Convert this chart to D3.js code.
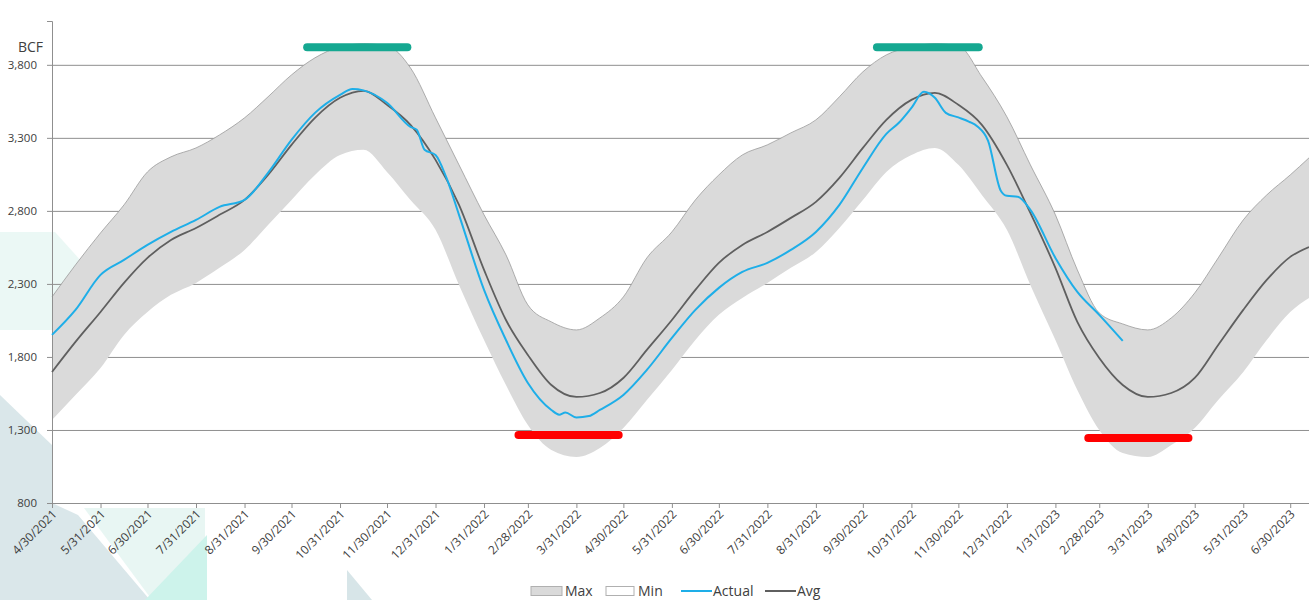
<!DOCTYPE html>
<html>
<head>
<meta charset="utf-8">
<script src="https://cdn.jsdelivr.net/npm/d3@7"></script>
<style>
  html, body { margin: 0; padding: 0; background: #ffffff; }
  svg { display: block; }
  text { font-family: "Open Sans", "Liberation Sans", sans-serif; fill: #404040; }
</style>
</head>
<body>
<svg id="chart" width="1309" height="600"></svg>
<script>
// ---------- DATA ----------
const bandDates = ["2021-04-30","2021-05-15","2021-05-31","2021-06-15","2021-06-30","2021-07-15","2021-07-31","2021-08-15","2021-08-31","2021-09-15","2021-09-30","2021-10-15","2021-10-31","2021-11-15","2021-11-30","2021-12-15","2021-12-31",
"2022-01-15","2022-01-31","2022-02-14","2022-02-28","2022-03-15","2022-03-31","2022-04-15","2022-04-30","2022-05-15","2022-05-31","2022-06-15","2022-06-30","2022-07-15","2022-07-31","2022-08-15","2022-08-31","2022-09-15","2022-09-30","2022-10-15","2022-10-31","2022-11-15","2022-11-30","2022-12-15","2022-12-31",
"2023-01-15","2023-01-31","2023-02-14","2023-02-28","2023-03-15","2023-03-31","2023-04-15","2023-04-30","2023-05-15","2023-05-31","2023-06-15","2023-06-30","2023-07-12"];

const maxVals = [2211,2430,2649,2841,3067,3170,3231,3320,3437,3581,3731,3848,3923,3944,3930,3779,3437,
3115,2773,2499,2156,2040,1985,2067,2211,2478,2656,2875,3046,3183,3252,3334,3423,3581,3752,3868,3923,3944,3930,3718,3444,
3115,2773,2396,2101,2026,1985,2067,2238,2478,2738,2909,3046,3163];

const minVals = [1368,1540,1725,1951,2108,2225,2307,2410,2533,2704,2875,3046,3183,3218,3067,2875,2670,
2293,1916,1608,1334,1163,1115,1177,1314,1505,1711,1916,2088,2204,2307,2410,2519,2683,2875,3067,3183,3231,3115,2909,2670,
2293,1916,1574,1300,1142,1115,1197,1314,1505,1697,1916,2108,2204];

const avgVals = [1697,1903,2108,2307,2478,2601,2683,2773,2875,3046,3252,3437,3574,3622,3526,3389,3149,
2841,2396,2053,1814,1608,1526,1553,1656,1848,2053,2259,2444,2567,2656,2752,2862,3026,3231,3423,3560,3608,3526,3389,3115,
2786,2410,2040,1793,1608,1526,1553,1656,1882,2122,2327,2485,2553];

const actualDates = ["2021-04-30","2021-05-15","2021-05-31","2021-06-15","2021-06-30","2021-07-15","2021-07-31","2021-08-15","2021-08-31","2021-09-15","2021-09-30","2021-10-15","2021-10-31","2021-11-08","2021-11-15","2021-11-30","2021-12-15","2021-12-19","2021-12-24","2021-12-31",
"2022-01-07","2022-01-15","2022-01-31","2022-02-14","2022-02-28","2022-03-15","2022-03-20","2022-03-24","2022-03-31","2022-04-08","2022-04-15","2022-04-30","2022-05-15","2022-05-31","2022-06-15","2022-06-30","2022-07-15","2022-07-31","2022-08-15","2022-08-31","2022-09-15","2022-09-30","2022-10-15","2022-10-23","2022-10-31","2022-11-08","2022-11-15","2022-11-22","2022-11-30","2022-12-07","2022-12-12","2022-12-19","2022-12-27","2022-12-31",
"2023-01-07","2023-01-15","2023-01-31","2023-02-14","2023-02-28","2023-03-15"];

const actualVals = [1951,2122,2362,2464,2567,2656,2738,2827,2875,3060,3286,3471,3594,3635,3625,3540,3375,3355,3218,3183,
3026,2773,2259,1916,1622,1437,1405,1420,1385,1395,1437,1540,1711,1930,2122,2273,2382,2444,2533,2656,2841,3094,3327,3403,3505,3615,3574,3471,3440,3410,3380,3280,2940,2903,
2896,2807,2478,2245,2088,1910];

const yTicks = [800,1300,1800,2300,2800,3300,3800];
const xTickLabels = ["4/30/2021","5/31/2021","6/30/2021","7/31/2021","8/31/2021","9/30/2021","10/31/2021","11/30/2021","12/31/2021",
"1/31/2022","2/28/2022","3/31/2022","4/30/2022","5/31/2022","6/30/2022","7/31/2022","8/31/2022","9/30/2022","10/31/2022","11/30/2022","12/31/2022",
"1/31/2023","2/28/2023","3/31/2023","4/30/2023","5/31/2023","6/30/2023"];

// annotation bars (target windows): start date, end date, level (BCF)
const peakBars = [["2021-10-10","2021-12-13",3920],["2022-10-09","2022-12-13",3920]];
const troughBars = [["2022-02-22","2022-04-27",1266],["2023-02-21","2023-04-26",1245]];

const legendItems = ["Max","Min","Actual","Avg"];

// ---------- SCALES ----------
const parse = d3.timeParse("%Y-%m-%d");
const parseMDY = d3.timeParse("%m/%d/%Y");
const svg = d3.select("#chart");
const W = 1309, H = 600;
const x = d3.scaleTime().domain([parse("2021-04-30"), parse("2023-07-12")]).range([52, 1309]);
const y = d3.scaleLinear().domain([800, 4100]).range([503, 21]);

// ---------- BACKGROUND DECOR ----------
const decor = svg.append("g");
decor.append("polygon").attr("points", "0,395 52,445 52,503 78,515 150,600 0,600").attr("fill", "#d3e3e6").attr("opacity", 0.85);
decor.append("polygon").attr("points", "84,508 205,508 205,600 152,600").attr("fill", "#e6f5f2").attr("opacity", 0.9);
decor.append("polygon").attr("points", "207,535 207,600 145,600").attr("fill", "#cdf3eb");
decor.append("polygon").attr("points", "0,232 55,232 100,282 100,330 0,330").attr("fill", "#e6f6f3").attr("opacity", 0.8);
decor.append("polygon").attr("points", "347,570 347,600 372,600").attr("fill", "#d7e5e8");

// ---------- GRIDLINES ----------
svg.append("g").selectAll("line").data(yTicks.filter(d => d > 800)).join("line")
  .attr("x1", 52).attr("x2", W).attr("y1", d => y(d) + 0.5).attr("y2", d => y(d) + 0.5)
  .attr("stroke", "#8f8f8f").attr("stroke-width", 1);

// ---------- BAND ----------
const band = bandDates.map((d, i) => ({ date: parse(d), max: maxVals[i], min: minVals[i], avg: avgVals[i] }));
const actual = actualDates.map((d, i) => ({ date: parse(d), v: actualVals[i] }));

svg.append("path").datum(band)
  .attr("d", d3.area().x(d => x(d.date)).y0(d => y(d.min)).y1(d => y(d.max)).curve(d3.curveMonotoneX))
  .attr("fill", "#dadada");
svg.append("path").datum(band)
  .attr("d", d3.line().x(d => x(d.date)).y(d => y(d.max)).curve(d3.curveMonotoneX))
  .attr("fill", "none").attr("stroke", "#9a9a9a").attr("stroke-width", 0.8);

// ---------- AXES ----------
const yAxis = svg.append("g").attr("transform", "translate(52,0)")
  .call(d3.axisLeft(y).tickValues(yTicks).tickSize(5).tickFormat(d3.format(",")));
yAxis.select(".domain").attr("stroke", "#8f8f8f");
yAxis.selectAll(".tick line").attr("stroke", "#8f8f8f");
yAxis.selectAll(".tick text").attr("x", -15).style("font-size", "11.5px").style("font-family", "Open Sans").attr("fill", "#404040");

const xAxis = svg.append("g").attr("transform", "translate(0,503)")
  .call(d3.axisBottom(x).tickValues(xTickLabels.map(s => parseMDY(s))).tickSize(5).tickFormat((d, i) => xTickLabels[i]));
xAxis.select(".domain").attr("stroke", "#8f8f8f").attr("d", "M52,0.5H1309");
xAxis.selectAll(".tick line").attr("stroke", "#8f8f8f");
xAxis.selectAll(".tick text")
  .attr("text-anchor", "end").attr("dy", null).attr("y", 0)
  .attr("transform", "translate(5,12) rotate(-45)")
  .style("font-size", "12px").style("font-family", "Open Sans").attr("fill", "#404040");

svg.append("text").attr("x", 18).attr("y", 52).text("BCF").style("font-size", "14px").attr("fill", "#262626");

// ---------- LINES ----------
svg.append("path").datum(band)
  .attr("d", d3.line().x(d => x(d.date)).y(d => y(d.avg)).curve(d3.curveMonotoneX))
  .attr("fill", "none").attr("stroke", "#5f5f5f").attr("stroke-width", 1.8);
svg.append("path").datum(actual)
  .attr("d", d3.line().x(d => x(d.date)).y(d => y(d.v)).curve(d3.curveMonotoneX))
  .attr("fill", "none").attr("stroke", "#1eaee8").attr("stroke-width", 2);

// ---------- ANNOTATION BARS ----------
svg.append("g").selectAll("line").data(peakBars).join("line")
  .attr("x1", d => x(parse(d[0]))).attr("x2", d => x(parse(d[1])))
  .attr("y1", d => y(d[2])).attr("y2", d => y(d[2]))
  .attr("stroke", "#15a891").attr("stroke-width", 8).attr("stroke-linecap", "round");
svg.append("g").selectAll("line").data(troughBars).join("line")
  .attr("x1", d => x(parse(d[0]))).attr("x2", d => x(parse(d[1])))
  .attr("y1", d => y(d[2])).attr("y2", d => y(d[2]))
  .attr("stroke", "#ff0000").attr("stroke-width", 8).attr("stroke-linecap", "round");

// ---------- LEGEND ----------
const lg = svg.append("g");
const legX = [531, 606, 681, 765];
legendItems.forEach((name, i) => {
  const gx = legX[i];
  if (i === 0) {
    lg.append("rect").attr("x", gx).attr("y", 586.5).attr("width", 31).attr("height", 9).attr("fill", "#dadada").attr("stroke", "#b0b0b0");
  } else if (i === 1) {
    lg.append("rect").attr("x", gx).attr("y", 586.5).attr("width", 28).attr("height", 9).attr("fill", "#ffffff").attr("stroke", "#b0b0b0");
  } else {
    lg.append("line").attr("x1", gx).attr("x2", gx + 31).attr("y1", 591).attr("y2", 591)
      .attr("stroke", i === 2 ? "#1eaee8" : "#5f5f5f").attr("stroke-width", 2);
  }
  const tx = i === 0 ? gx + 34 : gx + 32;
  lg.append("text").attr("x", tx).attr("y", 596).text(name).style("font-size", "14px").attr("fill", "#404040");
});
</script>
</body>
</html>
